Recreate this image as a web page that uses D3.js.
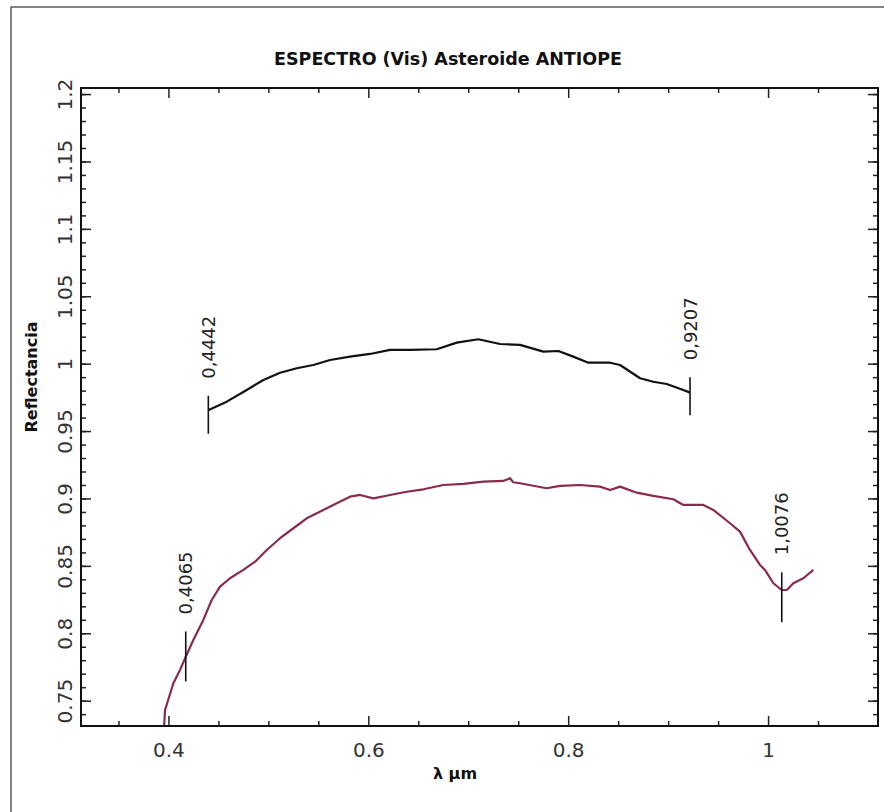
<!DOCTYPE html>
<html>
<head>
<meta charset="utf-8">
<script src="https://cdn.jsdelivr.net/npm/d3@7"></script>
<style>
  body { margin: 0; background: #fff; }
  svg text { font-family: "DejaVu Sans", sans-serif; }
</style>
</head>
<body>
<div id="chart"></div>
<script>
// visible spectrum (black)
var visLambda = [0.4403, 0.4583, 0.4783, 0.4950, 0.5117, 0.5284, 0.5450, 0.5617, 0.5817, 0.6017,
                 0.6217, 0.6417, 0.6685, 0.6885, 0.7101, 0.7318, 0.7518, 0.7751, 0.7901, 0.8051,
                 0.8202, 0.8419, 0.8519, 0.8719, 0.8852, 0.8986, 0.9152, 0.9219];
var visRefl   = [0.9657, 0.9718, 0.9805, 0.9879, 0.9933, 0.9966, 0.9990, 1.0027, 1.0052, 1.0072,
                 1.0102, 1.0102, 1.0107, 1.0156, 1.0181, 1.0146, 1.0139, 1.0089, 1.0094, 1.0052,
                 1.0007, 1.0007, 0.9990, 0.9892, 0.9866, 0.9849, 0.9805, 0.9785];

// second spectrum (red)
var redLambda = [0.3955, 0.3966, 0.4049, 0.4116, 0.4173, 0.4249, 0.4349, 0.4433, 0.4516, 0.4616,
                 0.4749, 0.4867, 0.4984, 0.5117, 0.5250, 0.5384, 0.5550, 0.5684, 0.5817, 0.5917,
                 0.6050, 0.6217, 0.6384, 0.6551, 0.6751, 0.6951, 0.7151, 0.7350, 0.7418, 0.7450,
                 0.7518, 0.7785, 0.7918, 0.8118, 0.8318, 0.8419, 0.8519, 0.8686, 0.8852, 0.9052,
                 0.9152, 0.9352, 0.9452, 0.9619, 0.9719, 0.9819, 0.9919, 0.9969, 1.0053, 1.0137,
                 1.0187, 1.0253, 1.0353, 1.0453];
var redRefl   = [0.7290, 0.7431, 0.7629, 0.7728, 0.7826, 0.7950, 0.8099, 0.8247, 0.8346, 0.8408,
                 0.8470, 0.8531, 0.8618, 0.8705, 0.8779, 0.8853, 0.8915, 0.8964, 0.9013, 0.9026,
                 0.9001, 0.9026, 0.9050, 0.9068, 0.9100, 0.9108, 0.9125, 0.9130, 0.9150, 0.9120,
                 0.9113, 0.9076, 0.9093, 0.9100, 0.9088, 0.9063, 0.9088, 0.9043, 0.9019, 0.8994,
                 0.8952, 0.8952, 0.8915, 0.8816, 0.8754, 0.8618, 0.8507, 0.8470, 0.8371, 0.8321,
                 0.8321, 0.8371, 0.8408, 0.8470];

// end markers
var markerLambda = [0.4399, 0.9219, 0.4173, 1.0137];
var markerRefl   = [0.9621, 0.9758, 0.7828, 0.8267];
var markerText   = ["0,4442", "0,9207", "0,4065", "1,0076"];
var markerSeries = ["vis", "vis", "red", "red"];

var xMajorTicks = [0.4, 0.6, 0.8, 1];
var xMinorTicks = [0.35, 0.45, 0.5, 0.55, 0.65, 0.7, 0.75, 0.85, 0.9, 0.95, 1.05];
var yMajorTicks = [0.75, 0.8, 0.85, 0.9, 0.95, 1, 1.05, 1.1, 1.15, 1.2];
var yMinorTicks = d3.range(74, 121).map(function(v) { return v / 100; });

var margin = {top: 88, right: 6, bottom: 86, left: 81},
    width = 884 - margin.left - margin.right,
    height = 812 - margin.top - margin.bottom;

var root = d3.select("#chart")
    .append("svg")
    .attr("width", 884)
    .attr("height", 812);

// outer border (runs off the right and bottom edges)
root.append("rect")
    .attr("x", 11).attr("y", 7)
    .attr("width", 900).attr("height", 900)
    .attr("fill", "none")
    .attr("stroke", "#333")
    .attr("stroke-width", 1.2);

root.append("text")
    .attr("x", 448).attr("y", 65)
    .attr("text-anchor", "middle")
    .style("font-size", "17.5px")
    .style("font-weight", "bold")
    .attr("fill", "#111")
    .text("ESPECTRO (Vis) Asteroide ANTIOPE");

root.append("text")
    .attr("transform", "translate(37,377) rotate(-90)")
    .attr("text-anchor", "middle")
    .style("font-size", "16px")
    .style("font-weight", "bold")
    .attr("fill", "#111")
    .text("Reflectancia");

root.append("text")
    .attr("x", 455).attr("y", 779)
    .attr("text-anchor", "middle")
    .style("font-size", "16px")
    .style("font-weight", "bold")
    .attr("fill", "#111")
    .text("λ μm");

var svg = root.append("g")
    .attr("transform", "translate(" + margin.left + "," + margin.top + ")");

var x = d3.scaleLinear().domain([0.3125, 1.11]).range([0, width]);
var y = d3.scaleLinear().domain([0.7312, 1.2045]).range([height, 0]);

var fmt = function(d) { return String(+d.toFixed(2)); };

function styleAxis(g) {
    g.select(".domain").remove();
    g.selectAll(".tick line").attr("stroke", "#222").attr("stroke-width", 1.5);
}

// bottom
svg.append("g").attr("transform", "translate(0," + height + ")")
    .call(d3.axisBottom(x).tickValues(xMajorTicks).tickSize(-10).tickPadding(17).tickFormat(fmt))
    .call(styleAxis)
    .selectAll("text").style("font-size", "20px").attr("fill", "#333");
svg.append("g").attr("transform", "translate(0," + height + ")")
    .call(d3.axisBottom(x).tickValues(xMinorTicks).tickSize(-5).tickFormat(""))
    .call(styleAxis);

// top mirror
svg.append("g")
    .call(d3.axisTop(x).tickValues(xMajorTicks).tickSize(-10).tickFormat(""))
    .call(styleAxis);
svg.append("g")
    .call(d3.axisTop(x).tickValues(xMinorTicks).tickSize(-5).tickFormat(""))
    .call(styleAxis);

// left
svg.append("g")
    .call(d3.axisLeft(y).tickValues(yMajorTicks).tickSize(-10).tickFormat(fmt))
    .call(styleAxis)
    .selectAll("text")
    .attr("x", null).attr("dy", null)
    .attr("text-anchor", "middle")
    .attr("transform", "translate(-9,0) rotate(-90)")
    .style("font-size", "20px")
    .attr("fill", "#333");
svg.append("g")
    .call(d3.axisLeft(y).tickValues(yMinorTicks).tickSize(-5).tickFormat(""))
    .call(styleAxis);

// right mirror
svg.append("g").attr("transform", "translate(" + width + ",0)")
    .call(d3.axisRight(y).tickValues(yMajorTicks).tickSize(-10).tickFormat(""))
    .call(styleAxis);
svg.append("g").attr("transform", "translate(" + width + ",0)")
    .call(d3.axisRight(y).tickValues(yMinorTicks).tickSize(-5).tickFormat(""))
    .call(styleAxis);

svg.append("defs").append("clipPath").attr("id", "plotclip")
    .append("rect").attr("width", width).attr("height", height);

var line = d3.line()
    .x(function(d) { return x(d[0]); })
    .y(function(d) { return y(d[1]); });

svg.append("path")
    .datum(d3.zip(redLambda, redRefl))
    .attr("clip-path", "url(#plotclip)")
    .attr("fill", "none")
    .attr("stroke", "#8a2a4c")
    .attr("stroke-width", 2.2)
    .attr("stroke-linejoin", "round")
    .attr("d", line);

svg.append("path")
    .datum(d3.zip(visLambda, visRefl))
    .attr("fill", "none")
    .attr("stroke", "#111")
    .attr("stroke-width", 2.2)
    .attr("stroke-linejoin", "round")
    .attr("d", line);

// markers with rotated labels
var half = {vis: 19, red: 25};
markerLambda.forEach(function(l, i) {
    var mx = x(l), my = y(markerRefl[i]), h = half[markerSeries[i]];
    svg.append("line")
        .attr("x1", mx).attr("x2", mx)
        .attr("y1", my - h).attr("y2", my + h)
        .attr("stroke", "#111")
        .attr("stroke-width", 1.6);
    svg.append("text")
        .attr("transform", "translate(" + mx + "," + (my - h - 17) + ") rotate(-90)")
        .attr("dy", "0.36em")
        .style("font-size", "18px")
        .attr("fill", "#222")
        .text(markerText[i]);
});

// frame
svg.append("rect")
    .attr("width", width).attr("height", height)
    .attr("fill", "none")
    .attr("stroke", "#111")
    .attr("stroke-width", 2);
</script>
</body>
</html>
